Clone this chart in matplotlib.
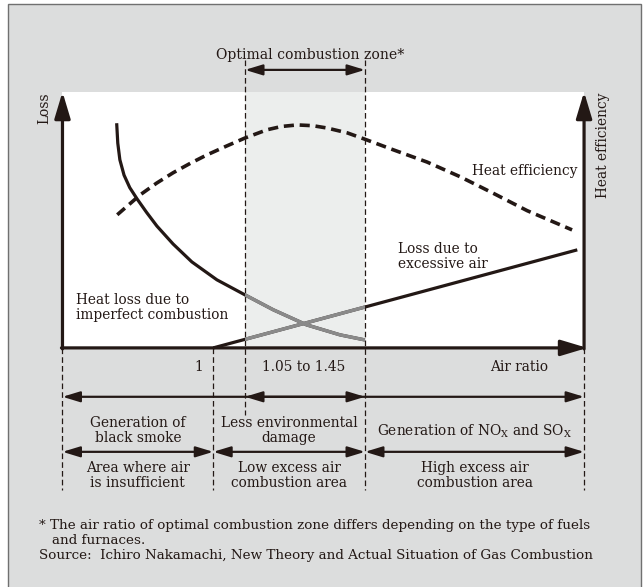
"""
Air ratio vs loss / heat efficiency schematic
"""
import numpy as np
import matplotlib
matplotlib.use('Agg')
import matplotlib.pyplot as plt
from matplotlib.patches import Rectangle

plt.rcParams['font.family'] = 'DejaVu Serif'
plt.rcParams['mathtext.fontset'] = 'dejavuserif'

# schematic curves, x = position along air ratio axis (0-100), y = level (0-100)
loss_imperfect_x = [10.39, 10.6, 11.0, 11.8, 12.9, 14.3, 16.1, 18.1, 21.2, 24.8,
                    29.6, 35.0, 40.4, 46.8, 53.2, 58.0]
loss_imperfect_y = [87.77, 80.0, 73.5, 67.5, 62.6, 58.2, 53.0, 47.6, 40.6, 33.6,
                    26.6, 20.7, 14.9, 9.0, 5.1, 3.1]

loss_excess_x = [28.9, 98.7]
loss_excess_y = [0.0, 38.3]

efficiency_x = [10.5, 14.9, 18.0, 21.2, 24.5, 27.7, 31.4, 35.0, 39.2, 42.0, 45.0,
                48.0, 50.7, 54.6, 58.0, 63.4, 69.9, 76.2, 82.6, 89.1, 97.7]
efficiency_y = [52.0, 59.8, 64.3, 68.4, 72.1, 75.4, 78.8, 82.0, 85.2, 86.5, 87.1,
                86.8, 85.9, 84.0, 81.5, 77.4, 72.6, 66.9, 60.4, 53.6, 46.1]

# zone boundaries on the air ratio axis
air_ratio_one = 28.9
optimal_start = 35.0
optimal_end = 58.0

row1_labels = ['Generation of\nblack smoke', 'Less environmental\ndamage',
               'Generation of NO$_{\\mathrm{X}}$ and SO$_{\\mathrm{X}}$']
row2_labels = ['Area where air\nis insufficient', 'Low excess air\ncombustion area',
               'High excess air\ncombustion area']

ink = '#231815'
grey_bg = '#dcdddd'
zone_fill = '#eceeed'
grey_line = '#8a8a8a'

fig = plt.figure(figsize=(6.43, 5.87), dpi=100, facecolor='white')
ax = fig.add_axes([0, 0, 1, 1])
ax.set_xlim(-11.98, 111.3)
ax.set_ylim(-93.4, 135.9)
ax.axis('off')

# outer panel and white plot area
ax.add_patch(Rectangle((-10.45, -100), 121.35, 234.2, facecolor=grey_bg,
                       edgecolor='#707070', lw=1.0, zorder=0, clip_on=False))
ax.add_patch(Rectangle((0, 0), 100, 100, facecolor='white', edgecolor='none', zorder=1))
ax.add_patch(Rectangle((optimal_start, 0), optimal_end - optimal_start, 100,
                       facecolor=zone_fill, edgecolor='none', zorder=1))

# dashed guide lines
dash_kw = dict(color=ink, lw=0.9, linestyle=(0, (4.5, 2.5)), zorder=2)
ax.plot([0, 0], [0, -55.5], **dash_kw)
ax.plot([air_ratio_one, air_ratio_one], [0, -55.5], **dash_kw)
ax.plot([optimal_start, optimal_start], [112.5, -26.2], **dash_kw)
ax.plot([optimal_end, optimal_end], [112.5, -55.5], **dash_kw)
ax.plot([100, 100], [0, -55.5], **dash_kw)

# curves
clip_zone = Rectangle((optimal_start, -5), optimal_end - optimal_start, 120,
                      transform=ax.transData)
ax.plot(loss_imperfect_x, loss_imperfect_y, color=ink, lw=2.3, zorder=3,
        solid_capstyle='butt', solid_joinstyle='round')
g1, = ax.plot(loss_imperfect_x, loss_imperfect_y, color=grey_line, lw=2.5, zorder=3.1)
g1.set_clip_path(clip_zone)
ax.plot(loss_excess_x, loss_excess_y, color=ink, lw=2.3, zorder=3, solid_capstyle='butt')
g2, = ax.plot(loss_excess_x, loss_excess_y, color=grey_line, lw=2.5, zorder=3.1)
g2.set_clip_path(clip_zone)
ax.plot(efficiency_x, efficiency_y, color=ink, lw=2.6, linestyle=(0, (2.8, 1.6)),
        zorder=3)

# axes with arrow heads
axis_arrow = dict(arrowstyle='-|>,head_length=16,head_width=4.8', mutation_scale=1,
                  lw=2.3, color=ink, shrinkA=0, shrinkB=0)
ax.annotate('', xy=(100.6, 0), xytext=(-0.2, 0), arrowprops=axis_arrow, zorder=4)
ax.annotate('', xy=(0, 100), xytext=(0, -0.4), arrowprops=axis_arrow, zorder=4)
ax.annotate('', xy=(100, 100), xytext=(100, -0.4), arrowprops=axis_arrow, zorder=4)

# range arrows
range_arrow = dict(arrowstyle='<|-|>,head_length=10.5,head_width=3.2', mutation_scale=1,
                   lw=1.6, color=ink, shrinkA=0, shrinkB=0)
ax.annotate('', xy=(optimal_end, 108.6), xytext=(optimal_start, 108.6),
            arrowprops=range_arrow, zorder=4)
ax.annotate('', xy=(100, -19.1), xytext=(0, -19.1), arrowprops=range_arrow, zorder=4)
ax.annotate('', xy=(optimal_end, -19.1), xytext=(optimal_start, -19.1),
            arrowprops=range_arrow, zorder=4)
row2_bounds = [0, air_ratio_one, optimal_end, 100]
for i in range(3):
    ax.annotate('', xy=(row2_bounds[i + 1], -40.6), xytext=(row2_bounds[i], -40.6),
                arrowprops=range_arrow, zorder=4)

# texts
fs = 9.9
ls = 1.1
ax.text(47.5, 114.5, 'Optimal combustion zone*', ha='center', va='center',
        fontsize=10.1, color=ink)
ax.text(-3.4, 99.8, 'Loss', rotation=90, ha='center', va='top', fontsize=fs, color=ink)
ax.text(103.6, 99.8, 'Heat efficiency', rotation=90, ha='center', va='top',
        fontsize=fs, color=ink)
ax.text(2.6, 15.8, 'Heat loss due to\nimperfect combustion', ha='left', va='center',
        fontsize=fs, color=ink, linespacing=ls)
ax.text(64.3, 35.7, 'Loss due to\nexcessive air', ha='left', va='center',
        fontsize=fs, color=ink, linespacing=ls)
ax.text(98.7, 69.1, 'Heat efficiency', ha='right', va='center', fontsize=fs, color=ink)
ax.text(26.2, -7.4, '1', ha='center', va='center', fontsize=fs, color=ink)
ax.text(46.3, -7.4, '1.05 to 1.45', ha='center', va='center', fontsize=fs, color=ink)
ax.text(87.5, -7.4, 'Air ratio', ha='center', va='center', fontsize=fs, color=ink)

row1_centers = [air_ratio_one / 2, (air_ratio_one + optimal_end) / 2, (optimal_end + 100) / 2]
for cx, lab in zip(row1_centers, row1_labels):
    ax.text(cx, -32.4, lab, ha='center', va='center', fontsize=fs, color=ink,
            linespacing=ls)
for cx, lab in zip(row1_centers, row2_labels):
    ax.text(cx, -49.8, lab, ha='center', va='center', fontsize=fs, color=ink,
            linespacing=ls)

fn = 9.7
ax.text(-4.5, -69.5, '* The air ratio of optimal combustion zone differs depending on the type of fuels',
        ha='left', va='center', fontsize=fn, color=ink)
ax.text(-2.0, -75.4, 'and furnaces.', ha='left', va='center', fontsize=fn, color=ink)
ax.text(-4.5, -80.9, 'Source:  Ichiro Nakamachi, New Theory and Actual Situation of Gas Combustion',
        ha='left', va='center', fontsize=fn, color=ink)

fig.savefig('out.png', dpi=100, facecolor=fig.get_facecolor())
